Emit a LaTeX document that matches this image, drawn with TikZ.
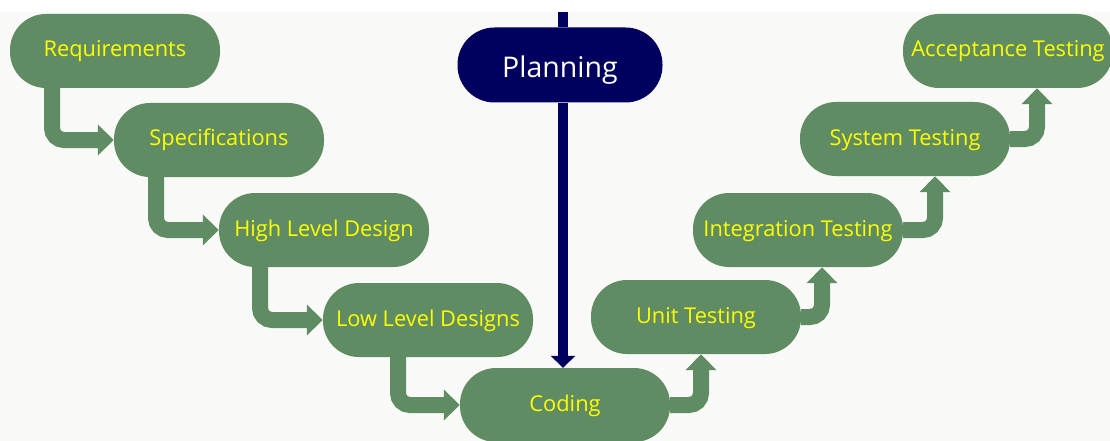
\documentclass[tikz,border=0pt]{standalone}
\usepackage{fontspec}
\setmainfont{Open Sans}
\usetikzlibrary{arrows.meta}
\definecolor{stepgreen}{HTML}{5F8C63}
\definecolor{plannavy}{HTML}{00005E}
\definecolor{txtyellow}{HTML}{FFFF00}
\definecolor{bgpaper}{HTML}{F9F9F7}
\tikzset{
  phase/.style={fill=stepgreen, rounded corners=36pt, minimum width=210pt, minimum height=74pt,
    text=txtyellow, font=\fontsize{21.8}{24}\selectfont, inner sep=0pt,
    text height=14pt, text depth=2pt},
  planbox/.style={fill=plannavy, rounded corners=37pt, minimum width=205pt, minimum height=75pt,
    text=white, font=\fontsize{28.5}{32}\selectfont, inner sep=0pt,
    text height=26pt, text depth=0pt},
  flow/.style={draw=stepgreen, line width=16pt, rounded corners=12pt,
    -{Triangle[width=30pt,length=16pt]}},
  navyline/.style={draw=plannavy, line width=10pt},
}
\begin{document}
\begin{tikzpicture}[x=1pt,y=-1pt]
\fill[white] (0,0) rectangle (1110,441);
\fill[bgpaper] (0,12) rectangle (1110,441);
\useasboundingbox (0,0) rectangle (1110,441);

\node[phase] (req)  at (115,51)  {Requirements};
\node[phase] (spec) at (219,140) {Specifications};
\node[phase] (hld)  at (324,230) {High Level Design};
\node[phase] (lld)  at (428,320) {Low Level Designs};
\node[phase] (cod)  at (565,405) {Coding};
\node[phase] (ut)   at (696,317) {Unit Testing};
\node[phase] (it)   at (798,230) {Integration Testing};
\node[phase] (st)   at (905,139) {System Testing};
\node[phase] (at)   at (1008,51) {Acceptance Testing};
\node[planbox] (plan) at (560,65) {Planning};
\coordinate (top) at (563,12);

\draw[navyline] (top) -- (top |- plan.north);
\draw[navyline, -{Triangle[width=24pt,length=12pt]}] (top |- plan.south) -- (top |- cod.north);

\draw[flow] ([xshift=-63pt]req.south) |- (spec.west);
\draw[flow] ([xshift=-63pt]spec.south) |- (hld.west);
\draw[flow] ([xshift=-64pt]hld.south) |- (lld.west);
\draw[flow] ([xshift=-30pt]lld.south) |- (cod.west);
\draw[flow] (cod.east) -| ([xshift=5pt]ut.south);
\draw[flow] (ut.east) -| ([xshift=24pt]it.south);
\draw[flow] (it.east) -| ([xshift=30pt]st.south);
\draw[flow] (st.east) -| ([xshift=29pt]at.south);
\end{tikzpicture}
\end{document}
